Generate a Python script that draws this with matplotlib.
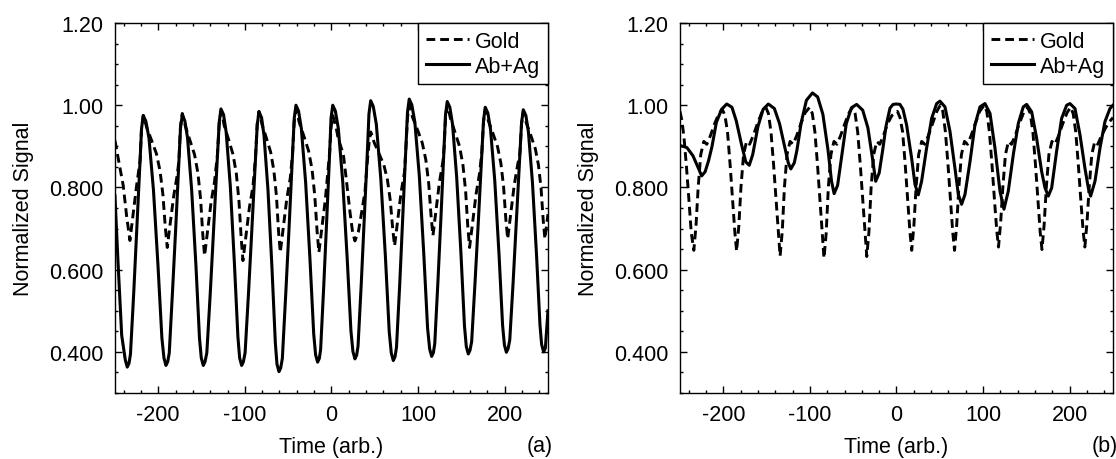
import matplotlib
matplotlib.use('Agg')
import matplotlib.pyplot as plt
from matplotlib.ticker import MultipleLocator

plt.rcParams['font.family'] = ['Liberation Sans', 'DejaVu Sans']
plt.rcParams['font.size'] = 15.5
plt.rcParams['axes.linewidth'] = 1.0

# ---- data: (time, normalized signal) ----
# panel (a), Ab+Ag (solid)
a_abag = [
    (-250, 0.780), (-246.5, 0.620), (-242.2, 0.440), (-238.1, 0.381), (-235.8, 0.363),
    (-233.8, 0.372), (-232.1, 0.394), (-228.4, 0.540), (-224.7, 0.700), (-221.0, 0.865),
    (-219.3, 0.943), (-217.3, 0.975), (-214.3, 0.961), (-210.7, 0.920), (-205.5, 0.793),
    (-200.3, 0.610), (-195.8, 0.434), (-193.4, 0.385), (-191.1, 0.367), (-189.1, 0.376),
    (-187.3, 0.397), (-183.6, 0.544), (-179.8, 0.702), (-176.1, 0.866), (-174.3, 0.944),
    (-172.3, 0.976), (-169.3, 0.962), (-166.2, 0.921), (-161.4, 0.793), (-156.5, 0.611),
    (-152.4, 0.434), (-150.3, 0.385), (-148.0, 0.367), (-146.0, 0.376), (-143.9, 0.398),
    (-139.8, 0.548), (-135.8, 0.710), (-131.7, 0.879), (-129.6, 0.959), (-127.6, 0.991),
    (-124.6, 0.977), (-121.6, 0.935), (-116.8, 0.804), (-112.1, 0.617), (-108.0, 0.436),
    (-106.0, 0.385), (-103.7, 0.367), (-101.7, 0.376), (-99.7, 0.398), (-95.7, 0.546),
    (-91.7, 0.706), (-87.7, 0.873), (-85.7, 0.952), (-83.7, 0.984), (-80.7, 0.970),
    (-77.9, 0.927), (-73.3, 0.794), (-68.7, 0.605), (-64.8, 0.422), (-62.9, 0.370),
    (-60.6, 0.352), (-58.6, 0.361), (-56.7, 0.384), (-52.8, 0.540), (-48.8, 0.708),
    (-44.9, 0.883), (-43.0, 0.968), (-41.0, 1.000), (-38.0, 0.986), (-34.8, 0.944),
    (-29.8, 0.812), (-24.8, 0.625), (-20.5, 0.444), (-18.3, 0.393), (-16.0, 0.375),
    (-14.0, 0.384), (-12.5, 0.406), (-9.0, 0.556), (-5.5, 0.719), (-2.0, 0.888),
    (-0.5, 0.968), (1.5, 1.000), (4.5, 0.986), (7.9, 0.944), (13.0, 0.815),
    (18.1, 0.630), (22.5, 0.451), (24.8, 0.401), (27.1, 0.383), (29.1, 0.392),
    (30.7, 0.414), (34.4, 0.565), (38.0, 0.728), (41.7, 0.898), (43.3, 0.979),
    (45.3, 1.011), (48.3, 0.997), (51.8, 0.954), (57.0, 0.821), (62.3, 0.632),
    (66.7, 0.449), (69.1, 0.397), (71.4, 0.379), (73.4, 0.388), (75.1, 0.411),
    (78.8, 0.563), (82.4, 0.729), (86.1, 0.901), (87.8, 0.983), (89.8, 1.015),
    (92.8, 1.001), (96.3, 0.959), (101.5, 0.827), (106.6, 0.639), (111.0, 0.458),
    (113.4, 0.407), (115.7, 0.389), (117.7, 0.398), (119.3, 0.420), (122.9, 0.569),
    (126.5, 0.730), (130.1, 0.897), (131.7, 0.977), (133.7, 1.009), (136.7, 0.995),
    (139.8, 0.954), (144.6, 0.825), (149.5, 0.641), (153.6, 0.463), (155.7, 0.413),
    (158.0, 0.395), (160.0, 0.404), (161.9, 0.425), (165.8, 0.569), (169.8, 0.725),
    (173.7, 0.887), (175.6, 0.963), (177.6, 0.995), (180.6, 0.981), (183.7, 0.941),
    (188.6, 0.816), (193.5, 0.637), (197.6, 0.465), (199.7, 0.417), (202.0, 0.399),
    (204.0, 0.408), (205.9, 0.429), (209.8, 0.570), (213.7, 0.724), (217.6, 0.883),
    (219.5, 0.957), (221.5, 0.989), (224.5, 0.975), (227.4, 0.936), (232.1, 0.812),
    (236.8, 0.636), (240.8, 0.465), (242.7, 0.418), (245.0, 0.400), (247.0, 0.409),
    (250.0, 0.500),
]

# panel (a), Gold (dashed)
a_gold = [
    (-250, 0.914), (-245.5, 0.862), (-240.4, 0.804), (-236.5, 0.730), (-232.7, 0.671),
    (-229.2, 0.731), (-225.2, 0.801), (-221.0, 0.865), (-219.3, 0.945), (-217.3, 0.975),
    (-215.5, 0.963), (-213.4, 0.946), (-207.6, 0.914), (-202.1, 0.882), (-197.9, 0.840),
    (-194.6, 0.782), (-191.8, 0.702), (-189.6, 0.654), (-186.1, 0.714), (-182.1, 0.780),
    (-178.1, 0.830), (-176.1, 0.866), (-174.3, 0.950), (-172.3, 0.980),
    (-170.5, 0.968), (-168.7, 0.949), (-163.3, 0.914), (-158.1, 0.880), (-154.2, 0.835),
    (-151.1, 0.772), (-148.6, 0.686), (-146.5, 0.634), (-143.0, 0.694), (-139.0, 0.764),
    (-135.0, 0.814), (-131.7, 0.879), (-129.6, 0.955), (-127.6, 0.985),
    (-125.8, 0.973), (-124.0, 0.952), (-118.7, 0.916), (-113.6, 0.880), (-109.8, 0.833),
    (-106.8, 0.767), (-104.2, 0.676), (-102.2, 0.622), (-98.7, 0.682), (-94.7, 0.752),
    (-90.7, 0.802), (-87.7, 0.873), (-85.7, 0.955), (-83.7, 0.985),
    (-81.9, 0.972), (-80.3, 0.954), (-75.1, 0.920), (-70.2, 0.886), (-66.5, 0.841),
    (-63.5, 0.779), (-61.1, 0.693), (-59.1, 0.642), (-55.6, 0.702), (-51.6, 0.772),
    (-47.6, 0.822), (-44.9, 0.883), (-43.0, 0.960), (-41.0, 0.990),
    (-39.2, 0.977), (-37.3, 0.959), (-31.7, 0.924), (-26.4, 0.889), (-22.4, 0.844),
    (-19.3, 0.781), (-16.6, 0.694), (-14.5, 0.642), (-11.0, 0.702), (-7.0, 0.772),
    (-2.0, 0.888), (-0.5, 0.945), (1.5, 0.975),
    (3.3, 0.962), (5.0, 0.950), (7.9, 0.918), (13.7, 0.881), (17.5, 0.813),
    (21.4, 0.740), (24.5, 0.690), (27.1, 0.670), (31.0, 0.691), (34.9, 0.740),
    (38.7, 0.790), (41.7, 0.870), (43.5, 0.910), (45.3, 0.935),
    (47.2, 0.925), (49.2, 0.910), (55.0, 0.882), (60.5, 0.855), (64.6, 0.819),
    (67.9, 0.769), (70.7, 0.700), (72.9, 0.658), (76.4, 0.718), (80.4, 0.788),
    (84.4, 0.838), (86.1, 0.901), (87.8, 0.970), (89.8, 1.000),
    (91.6, 0.988), (93.6, 0.971), (99.4, 0.940), (104.9, 0.908), (109.0, 0.867),
    (112.3, 0.810), (115.0, 0.731), (117.2, 0.683), (120.7, 0.743), (124.7, 0.813),
    (128.7, 0.863), (130.1, 0.897), (131.7, 0.970), (133.7, 1.000),
    (135.5, 0.986), (137.3, 0.969), (142.7, 0.934), (147.9, 0.900), (151.8, 0.855),
    (154.9, 0.792), (157.4, 0.706), (159.5, 0.654), (163.0, 0.714), (167.0, 0.784),
    (171.0, 0.834), (173.7, 0.887), (175.6, 0.960), (177.6, 0.990),
    (179.4, 0.977), (181.2, 0.962), (186.7, 0.930), (191.8, 0.899), (195.7, 0.858),
    (198.8, 0.801), (201.4, 0.722), (203.5, 0.675), (207.0, 0.735), (211.0, 0.805),
    (215.0, 0.855), (217.6, 0.883), (219.5, 0.955), (221.5, 0.985),
    (223.3, 0.971), (225.0, 0.957), (230.3, 0.926), (235.3, 0.895), (239.0, 0.855),
    (242.0, 0.799), (244.5, 0.721), (246.5, 0.675), (250.0, 0.735),
]

# panel (b), Ab+Ag (solid)
b_abag = [
    (-250, 0.902), (-242, 0.897), (-235, 0.877), (-229, 0.848), (-225, 0.828),
    (-221, 0.838), (-217, 0.865), (-213, 0.900), (-208, 0.958), (-202, 0.990),
    (-196, 1.003), (-190, 0.995), (-185, 0.962), (-179, 0.905), (-174, 0.862),
    (-170, 0.854), (-166, 0.880), (-160, 0.948), (-154, 0.990), (-148, 1.003),
    (-141, 0.992), (-135, 0.955), (-129, 0.898), (-125, 0.860), (-122, 0.845),
    (-118, 0.860), (-115, 0.890), (-110, 0.958), (-104, 1.012), (-97, 1.030),
    (-91, 1.020), (-85, 0.978), (-79, 0.890), (-75, 0.815), (-72, 0.785),
    (-68, 0.805), (-63, 0.880), (-58, 0.955), (-52, 0.994), (-46, 1.002),
    (-39, 0.988), (-33, 0.945), (-28, 0.875), (-24, 0.815), (-20, 0.835),
    (-16, 0.890), (-12, 0.950), (-7.5, 0.993), (-4, 1.002), (0, 1.003),
    (4, 1.002), (7.5, 0.990), (11.7, 0.952), (17.5, 0.871), (21.4, 0.807),
    (25.2, 0.782), (29.0, 0.815), (34.8, 0.896), (40.6, 0.968), (46.4, 1.004),
    (50.2, 1.010), (56.0, 0.996), (61.8, 0.936), (67.5, 0.847), (71.4, 0.783),
    (75.2, 0.759), (79.1, 0.783), (84.9, 0.863), (90.6, 0.952), (96.4, 0.996),
    (102.2, 1.004), (108.0, 0.980), (113.7, 0.896), (119.5, 0.791), (124.1, 0.747),
    (129.1, 0.791), (134.9, 0.880), (140.7, 0.956), (146.4, 0.996), (150.3, 1.002),
    (156.1, 0.984), (161.8, 0.920), (167.6, 0.839), (171.5, 0.799), (175.3, 0.779),
    (179.2, 0.799), (184.9, 0.888), (190.7, 0.968), (196.5, 1.000), (200.3, 1.004),
    (206.1, 0.992), (211.9, 0.928), (217.6, 0.847), (221.5, 0.799), (224.2, 0.779),
    (229.2, 0.815), (235.0, 0.896), (240.7, 0.960), (246.5, 0.992), (250.0, 1.000),
]

# panel (b), Gold (dashed)
b_gold = [
    (-250, 0.985), (-248, 0.965), (-245.5, 0.925), (-242.5, 0.850), (-239.5, 0.765),
    (-237, 0.690), (-234.0, 0.647),
    (-231.5, 0.707), (-229, 0.800), (-226, 0.880), (-222.5, 0.912), (-219, 0.905),
    (-215, 0.925), (-210, 0.955), (-205, 0.980), (-201.1, 0.990),
    (-198.1, 0.975), (-195.1, 0.935), (-192.1, 0.855), (-189.1, 0.765), (-186.6, 0.690),
    (-184.6, 0.645),
    (-182.1, 0.705), (-179.6, 0.800), (-176.6, 0.880), (-173.1, 0.912), (-169.6, 0.905),
    (-165.6, 0.925), (-160.6, 0.955), (-155.6, 0.982), (-150.9, 0.995),
    (-147.9, 0.980), (-144.9, 0.935), (-141.9, 0.855), (-138.9, 0.765), (-136.4, 0.690),
    (-134.4, 0.633),
    (-131.9, 0.693), (-129.4, 0.800), (-126.4, 0.880), (-122.9, 0.912), (-119.4, 0.905),
    (-115.4, 0.925), (-110.4, 0.955), (-105.4, 0.982), (-100.2, 0.995),
    (-97.2, 0.980), (-94.2, 0.935), (-91.2, 0.855), (-88.2, 0.765), (-85.7, 0.690),
    (-83.7, 0.628),
    (-81.2, 0.688), (-78.7, 0.800), (-75.7, 0.880), (-72.2, 0.912), (-68.7, 0.905),
    (-64.7, 0.925), (-59.7, 0.955), (-54.7, 0.982), (-50.8, 0.995),
    (-47.8, 0.980), (-44.8, 0.935), (-41.8, 0.855), (-38.8, 0.765), (-36.3, 0.690),
    (-34.3, 0.632),
    (-31.8, 0.692), (-29.3, 0.800), (-26.3, 0.880), (-22.8, 0.912), (-19.3, 0.905),
    (-15.3, 0.925), (-10.3, 0.955), (-5.3, 0.975), (1.1, 0.985),
    (4.1, 0.970), (7.1, 0.935), (10.1, 0.855), (13.1, 0.765), (15.6, 0.690),
    (17.6, 0.647),
    (20.1, 0.707), (22.6, 0.800), (25.6, 0.880), (29.1, 0.912), (32.6, 0.905),
    (36.6, 0.925), (41.6, 0.955), (46.6, 0.985), (50.5, 1.000),
    (53.5, 0.985), (56.5, 0.935), (59.5, 0.855), (62.5, 0.765), (65.0, 0.690),
    (67.0, 0.647),
    (69.5, 0.707), (72.0, 0.800), (75.0, 0.880), (78.5, 0.912), (82.0, 0.905),
    (86.0, 0.925), (91.0, 0.955), (96.0, 0.985), (101.3, 1.000),
    (104.3, 0.985), (107.3, 0.935), (110.3, 0.855), (113.3, 0.765), (115.8, 0.695),
    (117.8, 0.655),
    (120.3, 0.715), (122.8, 0.800), (125.8, 0.880), (129.3, 0.912), (132.8, 0.905),
    (136.8, 0.925), (141.8, 0.955), (146.8, 0.982), (151.5, 0.995),
    (154.5, 0.980), (157.5, 0.935), (160.5, 0.855), (163.5, 0.765), (166.0, 0.690),
    (168.0, 0.649),
    (170.5, 0.709), (173.0, 0.800), (176.0, 0.880), (179.5, 0.912), (183.0, 0.905),
    (187.0, 0.925), (192.0, 0.955), (197.0, 0.982), (201.0, 0.995),
    (204.0, 0.980), (207.0, 0.935), (210.0, 0.855), (213.0, 0.765), (215.5, 0.695),
    (217.5, 0.655),
    (220.0, 0.715), (222.5, 0.800), (225.5, 0.880), (229.0, 0.912), (232.5, 0.905),
    (236.5, 0.925), (241.5, 0.945), (246.0, 0.960), (250.0, 0.970),
]

x_ticks = [-200, -100, 0, 100, 200]
y_ticks = [0.4, 0.6, 0.8, 1.0, 1.2]
y_tick_labels = ['0.400', '0.600', '0.800', '1.00', '1.20']


def draw_panel(ax, gold, abag, tag):
    gx, gy = zip(*gold)
    sx, sy = zip(*abag)
    ax.plot(gx, gy, color='black', lw=2.1, linestyle=(0, (3.0, 1.7)), label='Gold')
    ax.plot(sx, sy, color='black', lw=2.2, solid_joinstyle='round', label='Ab+Ag')

    ax.set_xlim(-250, 250)
    ax.set_ylim(0.3, 1.2)
    ax.set_xticks(x_ticks)
    ax.set_xticklabels([str(t) for t in x_ticks])
    ax.set_yticks(y_ticks)
    ax.set_yticklabels(y_tick_labels)
    ax.xaxis.set_minor_locator(MultipleLocator(20))
    ax.yaxis.set_minor_locator(MultipleLocator(0.05))
    ax.tick_params(which='both', direction='in', top=True, right=True, width=1)
    ax.tick_params(which='major', length=5, pad=8)
    ax.tick_params(which='minor', length=2.5)

    ax.set_xlabel('Time (arb.)', labelpad=8)
    ax.set_ylabel('Normalized Signal', labelpad=11)

    leg = ax.legend(loc='upper right', borderaxespad=0, fancybox=False,
                    handlelength=2.0, handletextpad=0.3, borderpad=0.35,
                    labelspacing=0.2, framealpha=1)
    leg.get_frame().set_edgecolor('black')
    leg.get_frame().set_linewidth(1.0)

    ax.text(1.012, -0.143, tag, transform=ax.transAxes, ha='right', va='center')


fig = plt.figure(figsize=(11.16, 4.6), dpi=100)
ax_a = fig.add_axes([0.1030, 0.1435, 0.388, 0.8043])
ax_b = fig.add_axes([0.6093, 0.1435, 0.388, 0.8043])

draw_panel(ax_a, a_gold, a_abag, '(a)')
draw_panel(ax_b, b_gold, b_abag, '(b)')

fig.savefig('out.png', dpi=100)
plt.close(fig)
